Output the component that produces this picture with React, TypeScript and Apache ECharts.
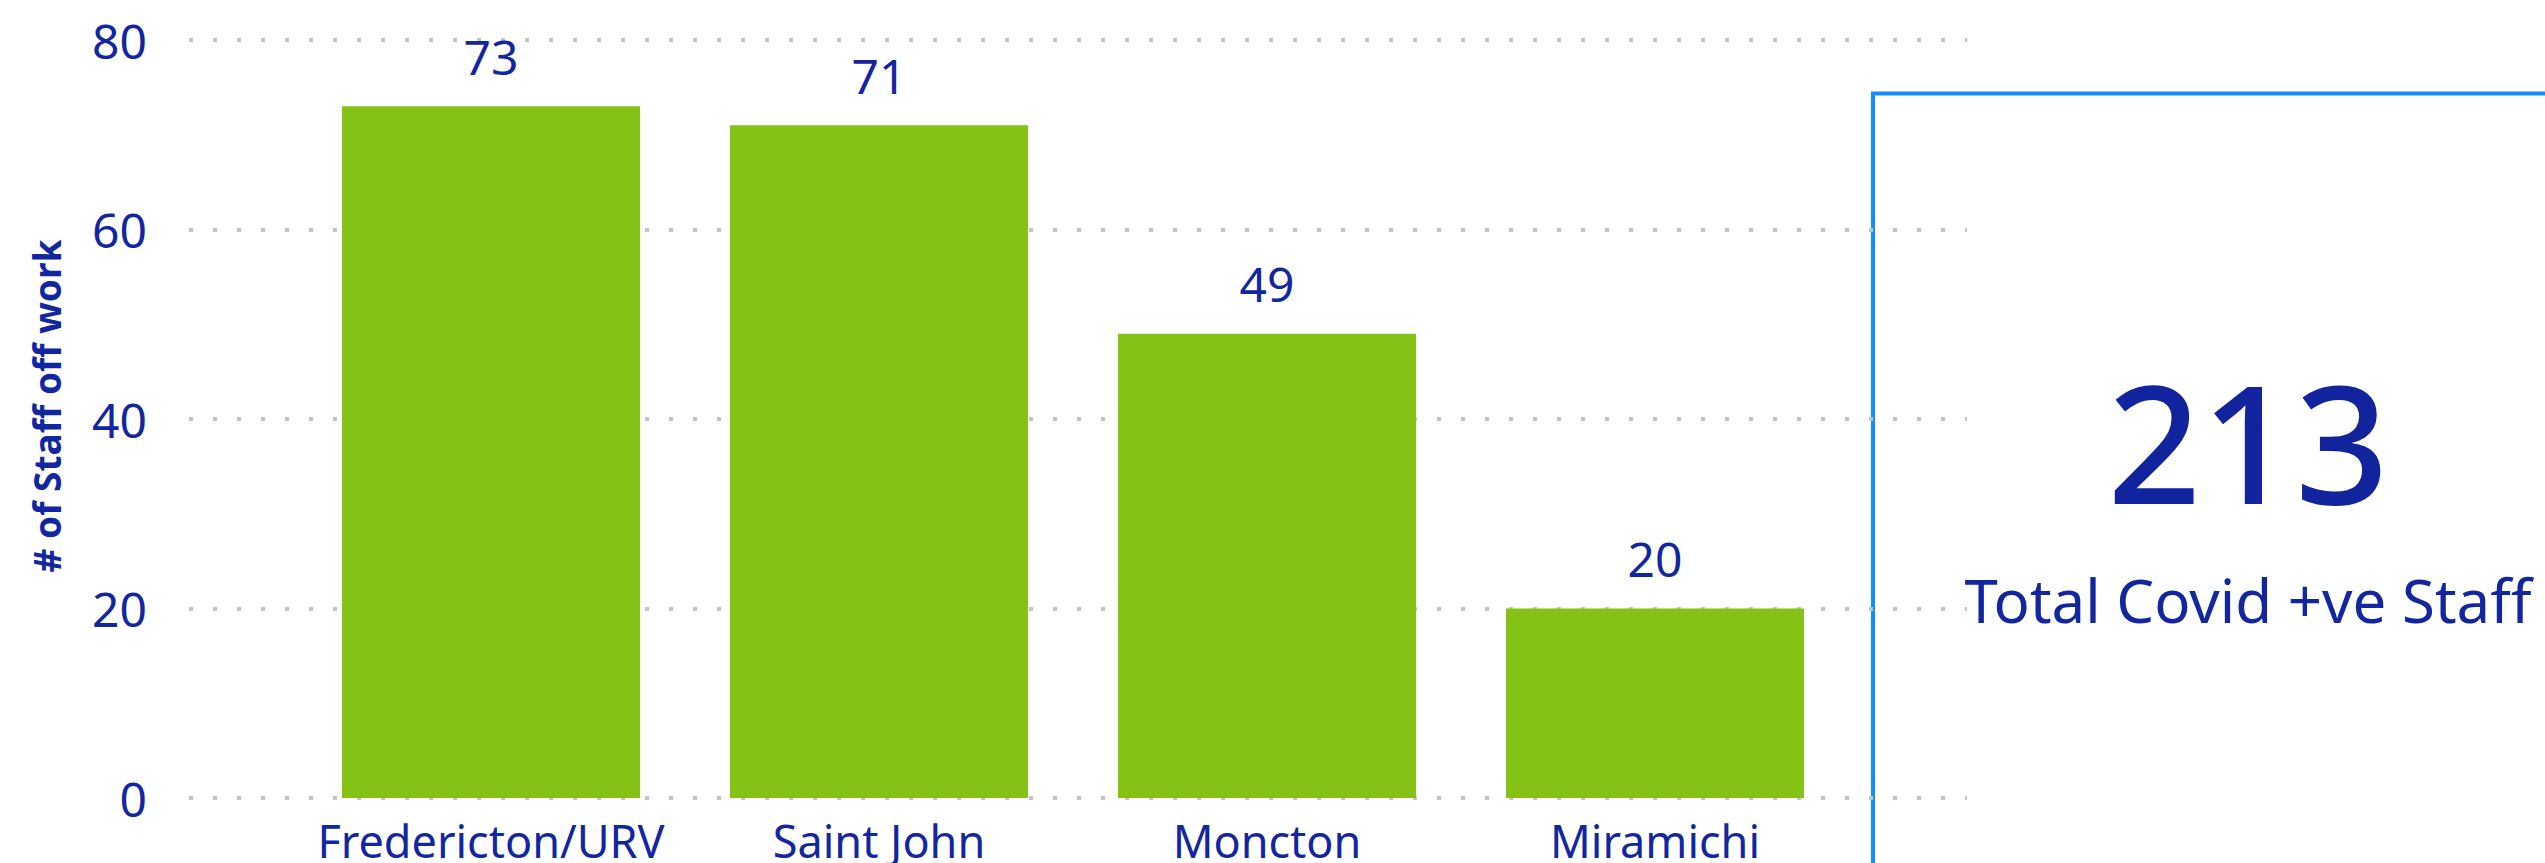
import React, { useEffect, useRef } from "react";
import * as echarts from "echarts";

const categories = ["Fredericton/URV", "Saint John", "Moncton", "Miramichi"];
const staffOff = [73, 71, 49, 20];
const yTicks = { min: 0, max: 80, interval: 20 };
const totalValue = "213";
const totalLabel = "Total Covid +ve Staff";
const yAxisTitle = "# of Staff off work";

const TEXT = "#1226A0";
const BAR = "#84C216";
const FONT = "Noto Sans";

export default function App() {
  const ref = useRef<HTMLDivElement>(null);
  useEffect(() => {
    if (!ref.current) return;
    const chart = echarts.init(ref.current, undefined, { renderer: "svg" });
    chart.setOption({
      animation: false,
      backgroundColor: "#ffffff",
      textStyle: { fontFamily: FONT },
      grid: [
        { left: 189, right: 578, top: 40, bottom: 65 },
        { left: 297, right: 696, top: 40, bottom: 65 },
      ],
      xAxis: [
        { type: "value", gridIndex: 0, show: false, min: 0, max: 1 },
        {
          type: "category",
          gridIndex: 1,
          data: categories,
          axisLine: { show: false },
          axisTick: { show: false },
          axisLabel: { color: TEXT, fontSize: 45, fontFamily: FONT, margin: 20, interval: 0 },
        },
      ],
      yAxis: [
        {
          type: "value",
          gridIndex: 0,
          min: yTicks.min,
          max: yTicks.max,
          interval: yTicks.interval,
          axisLine: { show: false },
          axisTick: { show: false },
          axisLabel: { color: TEXT, fontSize: 48, fontFamily: FONT, margin: 42 },
          splitLine: { lineStyle: { color: "#C4C4C4", width: 4, type: [4, 20] } },
        },
        {
          type: "value",
          gridIndex: 1,
          min: yTicks.min,
          max: yTicks.max,
          interval: yTicks.interval,
          show: false,
          splitLine: { show: false },
        },
      ],
      series: [
        {
          type: "bar",
          xAxisIndex: 1,
          yAxisIndex: 1,
          data: staffOff,
          barWidth: 298,
          itemStyle: { color: BAR },
          label: {
            show: true,
            position: "top",
            distance: 26,
            color: TEXT,
            fontSize: 48,
            fontFamily: FONT,
          },
        },
      ],
      graphic: [
        {
          type: "text",
          x: 46,
          y: 406,
          rotation: Math.PI / 2,
          style: {
            text: yAxisTitle,
            fill: TEXT,
            font: `bold 37px "${FONT}"`,
            align: "center",
            verticalAlign: "middle",
          },
        },
        {
          type: "rect",
          shape: { x: 1873, y: 93.5, width: 900, height: 900 },
          style: { fill: "none", stroke: "#118DFF", lineWidth: 4 },
        },
        {
          type: "text",
          x: 2248,
          y: 440,
          style: {
            text: totalValue,
            fill: "#12239E",
            font: `500 164px "${FONT}"`,
            align: "center",
            verticalAlign: "middle",
          },
        },
        {
          type: "text",
          x: 2248,
          y: 600,
          style: {
            text: totalLabel,
            fill: TEXT,
            font: `60px "${FONT}"`,
            align: "center",
            verticalAlign: "middle",
          },
        },
      ],
    });
    return () => chart.dispose();
  }, []);
  return (
    <div
      ref={ref}
      style={{ position: "fixed", left: 0, top: 0, width: 2545, height: 863 }}
    />
  );
}
